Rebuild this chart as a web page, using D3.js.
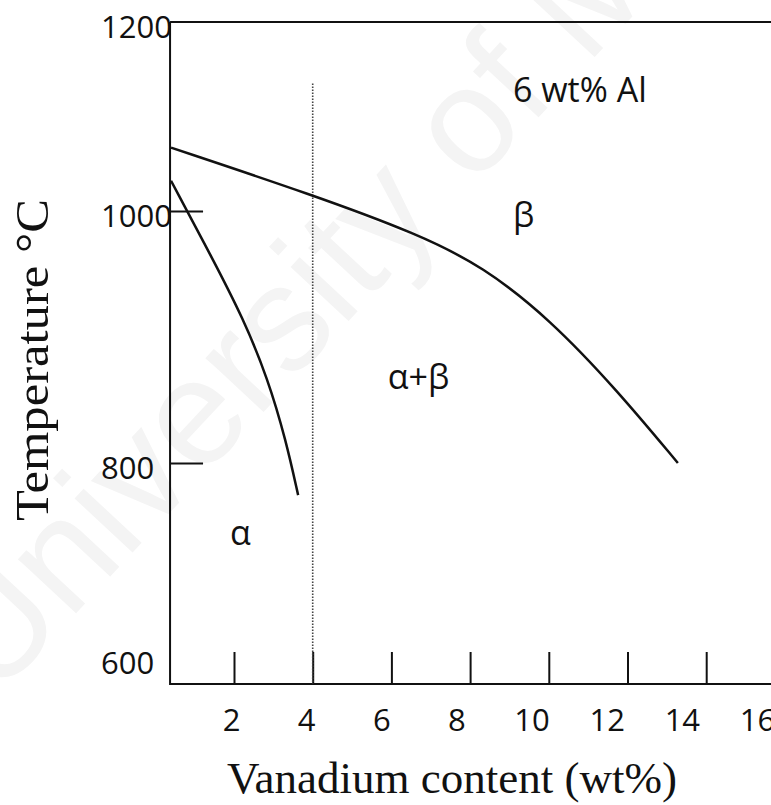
<!DOCTYPE html>
<html>
<head>
<meta charset="utf-8">
<script src="https://cdn.jsdelivr.net/npm/d3@7"></script>
<style>
    html, body { margin: 0; padding: 0; background: #fff; }
    svg { display: block; }
</style>
</head>
<body>
<div id="chart"></div>
<script>
// Phase boundaries (wt% V, temperature in C)
const betaTransusV = [0.4, 4.0, 6.65, 8.33, 10.03, 11.73, 13.28];
const betaTransusT = [1067, 1017, 982, 956, 914, 858, 800];

const alphaSolvusV = [0.4, 1.44, 2.23, 2.86, 3.32, 3.63];
const alphaSolvusT = [1032, 963, 915, 867, 818, 767];

// dotted marker at 4 wt% V
const markerV = 4;
const markerTop = 1135;

const xTicks = [2, 4, 6, 8, 10, 12, 14];
const xTickLabels = [2, 4, 6, 8, 10, 12, 14, 16];
const yTickMarks = [800, 1000];
const yTickLabels = [600, 800, 1000, 1200];

const regionLabels = ["6 wt% Al", "\u03b2", "\u03b1+\u03b2", "\u03b1"];
const regionV = [9.09, 9.09, 5.91, 1.9];
const regionT = [1128, 997, 868, 728];

const width = 771;
const height = 805;

const svg = d3.select("#chart")
    .append("svg")
    .attr("width", width)
    .attr("height", height);

// watermark
svg.append("text")
    .attr("transform", "translate(-5,700) rotate(-47)")
    .attr("font-family", "Liberation Sans, Arial, sans-serif")
    .attr("font-size", 150)
    .attr("fill", "#f4f4f4")
    .text("University of Malaya");

const x = d3.scaleLinear().domain([0, 16]).range([155.3, 784.9]);
const xOrigin = 0.375;
// the original diagram's temperature axis is not evenly spaced
const y = d3.scaleLinear().domain([573, 800, 1000, 1200]).range([684, 463, 211, 22]);
// the printed x labels drift from their tick marks
const xLabel = d3.scaleLinear().domain([2, 16]).range([231, 757]);

const fontSans = "'Open Sans', 'Liberation Sans', sans-serif";
const fontSerif = "'Liberation Serif', 'DejaVu Serif', serif";

const x0 = x(xOrigin);
const yBottom = y(573);
const yTop = y(1200);

// frame
const frame = svg.append("g").attr("stroke", "#111").attr("stroke-width", 2).attr("fill", "none");
frame.append("path").attr("d", `M${x0},${yTop}V${yBottom}H${width}`);
frame.append("path").attr("d", `M${x0},${yTop}H${width}`);

// x tick marks (pointing inward)
svg.append("g")
    .attr("class", "x-ticks")
    .attr("transform", `translate(0,${yBottom})`)
    .call(d3.axisBottom(x).tickValues(xTicks).tickSize(-32).tickFormat(""))
    .call((g) => g.select(".domain").remove())
    .selectAll("line")
    .attr("stroke", "#111")
    .attr("stroke-width", 2);

// x tick labels
const xl = svg.append("g")
    .attr("class", "x-labels")
    .attr("transform", `translate(0,720)`)
    .call(d3.axisBottom(xLabel).tickValues(xTickLabels).tickSize(0).tickFormat(d3.format("d")));
xl.select(".domain").remove();
xl.selectAll("text")
    .attr("y", 0)
    .attr("dy", "0.35em")
    .attr("font-size", 31)
    .attr("font-family", fontSans)
    .attr("fill", "#111");

// y tick marks
svg.append("g")
    .attr("class", "y-ticks")
    .attr("transform", `translate(${x0},0)`)
    .call(d3.axisLeft(y).tickValues(yTickMarks).tickSize(-33).tickFormat(""))
    .call((g) => g.select(".domain").remove())
    .selectAll("line")
    .attr("stroke", "#111")
    .attr("stroke-width", 2);

// y tick labels, left aligned as in the original
const yl = svg.append("g")
    .attr("class", "y-labels")
    .attr("transform", `translate(101,5)`)
    .call(d3.axisLeft(y).tickValues(yTickLabels).tickSize(0).tickFormat(d3.format("d")));
yl.select(".domain").remove();
yl.selectAll("text")
    .attr("x", 0)
    .attr("dy", "0.35em")
    .attr("text-anchor", "start")
    .attr("font-size", 31)
    .attr("font-family", fontSans)
    .attr("fill", "#111");

// dotted 4 wt% line
svg.append("line")
    .attr("x1", x(markerV))
    .attr("x2", x(markerV))
    .attr("y1", y(markerTop))
    .attr("y2", yBottom)
    .attr("stroke", "#444")
    .attr("stroke-width", 1.6)
    .attr("stroke-dasharray", "1.6,1.4");

const line = d3.line()
    .x((d) => x(d[0]))
    .y((d) => y(d[1]))
    .curve(d3.curveBasis);

svg.append("path")
    .datum(d3.zip(betaTransusV, betaTransusT))
    .attr("fill", "none")
    .attr("stroke", "#111")
    .attr("stroke-width", 2.5)
    .attr("d", line);

svg.append("path")
    .datum(d3.zip(alphaSolvusV, alphaSolvusT))
    .attr("fill", "none")
    .attr("stroke", "#111")
    .attr("stroke-width", 2.5)
    .attr("d", line);

// region labels
svg.append("g")
    .selectAll("text")
    .data(regionLabels)
    .enter()
    .append("text")
    .attr("x", (d, i) => x(regionV[i]))
    .attr("y", (d, i) => y(regionT[i]))
    .attr("dy", "0.35em")
    .attr("font-size", 34)
    .attr("font-family", fontSans)
    .attr("fill", "#111")
    .text((d) => d);

// axis titles
svg.append("text")
    .attr("x", 452)
    .attr("y", 777)
    .attr("dy", "0.35em")
    .attr("text-anchor", "middle")
    .attr("font-size", 45)
    .attr("font-family", fontSerif)
    .attr("fill", "#111")
    .text("Vanadium content (wt%)");

svg.append("text")
    .attr("transform", "translate(32,360) rotate(-90)")
    .attr("dy", "0.35em")
    .attr("text-anchor", "middle")
    .attr("font-size", 46)
    .attr("textLength", 322)
    .attr("lengthAdjust", "spacingAndGlyphs")
    .attr("font-family", fontSerif)
    .attr("fill", "#111")
    .text("Temperature \u00b0C");
</script>
</body>
</html>
